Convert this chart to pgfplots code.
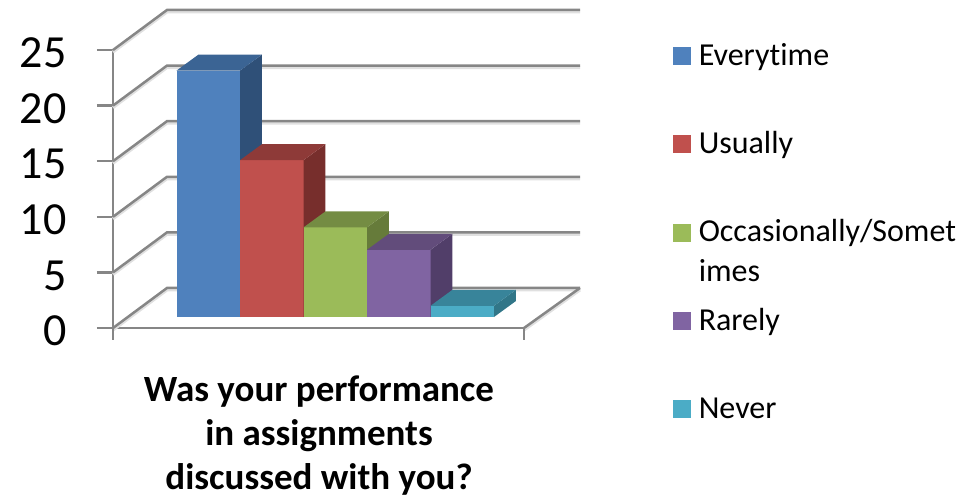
\documentclass[border=0pt]{standalone}
\usepackage{fontspec}
\setmainfont{Carlito}[Ligatures=NoCommon]
\usepackage{pgfplots}
\pgfplotsset{compat=1.18}

\definecolor{wallgray}{HTML}{868686}
\definecolor{blueF}{HTML}{4F81BD}
\definecolor{blueT}{HTML}{3B6494}
\definecolor{blueS}{HTML}{2F5078}
\definecolor{redF}{HTML}{C0504D}
\definecolor{redT}{HTML}{8E3A38}
\definecolor{redS}{HTML}{772E2C}
\definecolor{greenF}{HTML}{9BBB59}
\definecolor{greenT}{HTML}{748C43}
\definecolor{greenS}{HTML}{667B3A}
\definecolor{purpleF}{HTML}{8064A2}
\definecolor{purpleT}{HTML}{624C7B}
\definecolor{purpleS}{HTML}{513E69}
\definecolor{tealF}{HTML}{4BACC6}
\definecolor{tealT}{HTML}{38849A}
\definecolor{tealS}{HTML}{317688}

\pgfplotsset{wall/.style={wallgray, line width=2.5pt,
    preaction={draw=black!12, line width=3pt, transform canvas={yshift=-2pt}}}}

\begin{document}
\begin{tikzpicture}[x=1pt,y=1pt]
\path[use as bounding box] (0,0) rectangle (961,496);

% walls and floor, x in pixels from the front left corner
\begin{axis}[
    at={(113pt,168pt)}, anchor=south west,
    scale only axis, width=411pt, height=278pt,
    xmin=0, xmax=411, ymin=0, ymax=25,
    clip=false,
    axis x line=bottom, axis y line=left,
    axis line style={wallgray, line width=2.5pt, -},
    xtick=\empty,
    ytick={0,5,...,25},
    tick align=outside,
    major tick length=16pt,
    tick style={wallgray, line width=2.5pt},
    /pgf/number format/assume math mode=true,
    yticklabel style={font=\fontsize{46}{46}\selectfont, xshift=-27pt, yshift=-3pt},
    xlabel={Was your performance\\in assignments\\discussed with you?},
    xlabel style={at={(axis cs:206,-4.28)}, anchor=north, align=center, inner sep=0pt,
        font=\fontsize{37}{44}\selectfont\bfseries},
]
\addplot[wall] coordinates {(0,0) (54,3.6) (467,3.6)};
\addplot[wall] coordinates {(0,5) (54,8.6) (467,8.6)};
\addplot[wall] coordinates {(0,10) (54,13.6) (467,13.6)};
\addplot[wall] coordinates {(0,15) (54,18.6) (467,18.6)};
\addplot[wall] coordinates {(0,20) (54,23.6) (467,23.6)};
\addplot[wall] coordinates {(0,25) (54,28.6) (467,28.6)};
\addplot[wall] coordinates {(411,0) (467,3.6)};
% the two stubs under the floor edge
\addplot[wallgray, line width=2.5pt] coordinates {(0,0) (0,-1.08)};
\addplot[wallgray, line width=2.5pt] coordinates {(411,0) (411,-1.08)};
\end{axis}

% bars: front face from the value, side and top sheared back
\begin{axis}[
    at={(176.5pt,179pt)}, anchor=south west,
    scale only axis, width=317.5pt, height=280pt,
    xmin=-0.5, xmax=4.5, ymin=0, ymax=25,
    hide axis, clip=false,
    legend image code/.code={\fill[#1] (0pt,0pt) rectangle (18pt,18pt);},
    legend style={
        at={(1.564,0.986)}, anchor=north west,
        draw=none, fill=none, inner sep=0pt,
        font=\fontsize{32}{40}\selectfont,
        column sep=7.5pt, row sep=56.3pt,
        nodes={inner sep=0pt, text height=24pt, text depth=8pt, anchor=base west},
    },
]
\addplot[ybar, bar width=1, bar shift=0, fill=blueF, draw=none] coordinates {(0,22)};
\addlegendentry{Everytime}
\addplot[forget plot, fill=blueS, draw=none] coordinates {(0.5,0) (0.846,1.43) (0.846,23.43) (0.5,22)} --cycle;
\addplot[forget plot, fill=blueT, draw=none] coordinates {(-0.5,22) (-0.154,23.43) (0.846,23.43) (0.5,22)} --cycle;

\addplot[ybar, bar width=1, bar shift=0, fill=redF, draw=none] coordinates {(1,14)};
\addlegendentry{Usually}
\addplot[forget plot, fill=redS, draw=none] coordinates {(1.5,0) (1.846,1.43) (1.846,15.43) (1.5,14)} --cycle;
\addplot[forget plot, fill=redT, draw=none] coordinates {(0.5,14) (0.846,15.43) (1.846,15.43) (1.5,14)} --cycle;

\addplot[ybar, bar width=1, bar shift=0, fill=greenF, draw=none] coordinates {(2,8)};
\addlegendentry{\smash{\parbox[t]{280pt}{Occasionally/Somet\\imes}}}
\addplot[forget plot, fill=greenS, draw=none] coordinates {(2.5,0) (2.846,1.43) (2.846,9.43) (2.5,8)} --cycle;
\addplot[forget plot, fill=greenT, draw=none] coordinates {(1.5,8) (1.846,9.43) (2.846,9.43) (2.5,8)} --cycle;

\addplot[ybar, bar width=1, bar shift=0, fill=purpleF, draw=none] coordinates {(3,6)};
\addlegendentry{Rarely}
\addplot[forget plot, fill=purpleS, draw=none] coordinates {(3.5,0) (3.846,1.43) (3.846,7.43) (3.5,6)} --cycle;
\addplot[forget plot, fill=purpleT, draw=none] coordinates {(2.5,6) (2.846,7.43) (3.846,7.43) (3.5,6)} --cycle;

\addplot[ybar, bar width=1, bar shift=0, fill=tealF, draw=none] coordinates {(4,1)};
\addlegendentry{Never}
\addplot[forget plot, fill=tealS, draw=none] coordinates {(4.5,0) (4.846,1.43) (4.846,2.43) (4.5,1)} --cycle;
\addplot[forget plot, fill=tealT, draw=none] coordinates {(3.5,1) (3.846,2.43) (4.846,2.43) (4.5,1)} --cycle;
\end{axis}
\end{tikzpicture}
\end{document}
